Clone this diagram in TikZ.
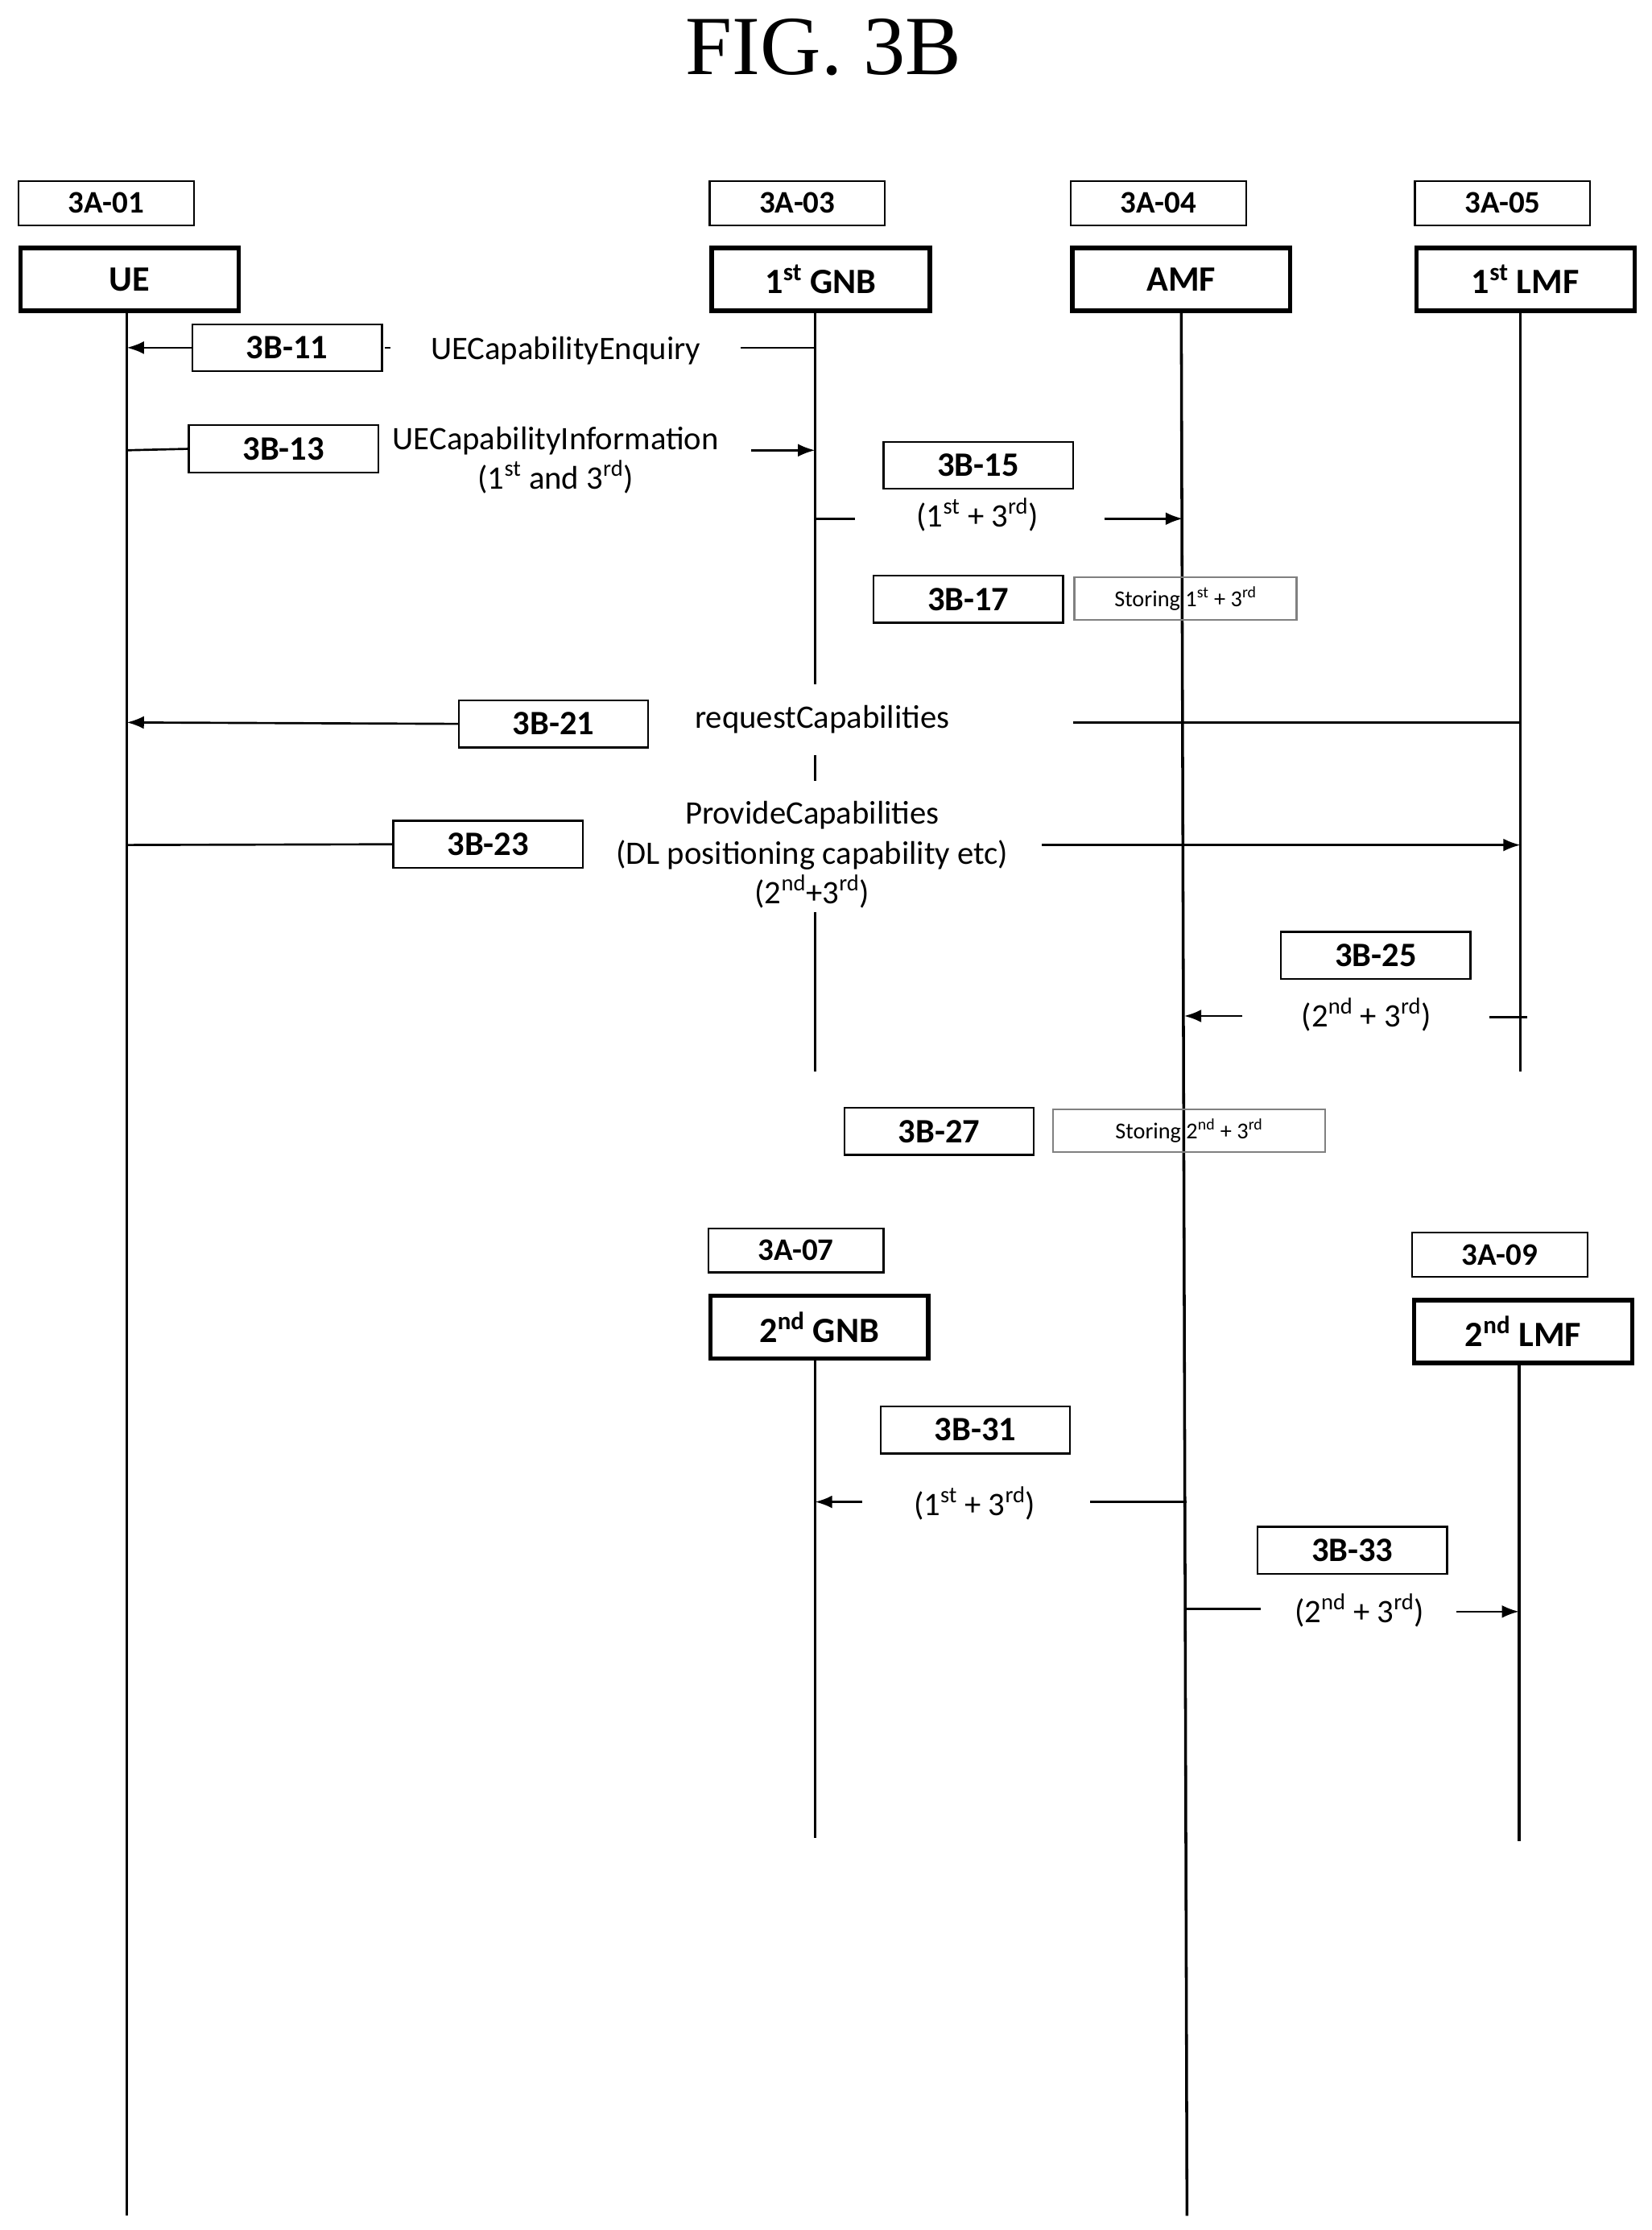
\documentclass[tikz,border=0pt]{standalone}
\usepackage{fontspec}
\setmainfont{Carlito}
\newfontfamily\titlefont{Liberation Serif}
\usetikzlibrary{arrows.meta}
\begin{document}
\begin{tikzpicture}[x=1pt,y=-1pt,
 lbl/.style={draw,line width=1.3pt,minimum width=123pt,minimum height=31pt,inner sep=0pt,font=\fontsize{22}{22}\selectfont\bfseries},
 ent/.style={draw,line width=3pt,minimum width=153pt,minimum height=44pt,inner sep=0pt,font=\fontsize{25}{25}\selectfont\bfseries},
 msg/.style={draw,line width=1.3pt,minimum width=133pt,minimum height=33pt,inner sep=0pt,font=\fontsize{24}{24}\selectfont\bfseries},
 txt/.style={inner sep=0pt,font=\fontsize{23}{28}\selectfont,align=center},
 sto/.style={draw=gray,line width=1.5pt,minimum height=30pt,inner sep=0pt,font=\fontsize{16}{16}\selectfont},
 life/.style={line width=2pt},
 ln/.style={line width=1.5pt},
 ar/.style={line width=1.5pt,-{Latex[length=12pt,width=9pt]}}]
\useasboundingbox (0,0) rectangle (1159,1565);
\node[font=\titlefont\fontsize{59}{59}\selectfont] (title) at (578,33) {FIG. 3B};
% entities
\node[lbl] (l1) at (74.5,142.5) {3A-01};
\node[ent] (ue) at (91,196) {UE};
\node[lbl] (l3) at (559.5,142.5) {3A-03};
\node[ent] (g1) at (576,196) {1\textsuperscript{st} GNB};
\node[lbl] (l4) at (813,142.5) {3A-04};
\node[ent] (amf) at (829,196) {AMF};
\node[lbl] (l5) at (1054.5,142.5) {3A-05};
\node[ent] (m1) at (1070.5,196) {1\textsuperscript{st} LMF};
\node[lbl] (l7) at (558.5,877.5) {3A-07};
\node[ent] (g2) at (575,931.5) {2\textsuperscript{nd} GNB};
\node[lbl] (l9) at (1052.5,880.5) {3A-09};
\node[ent] (m2) at (1069,934.5) {2\textsuperscript{nd} LMF};
% lifelines
\coordinate (ueT) at (89,219); \coordinate (ueB) at (89,1555);
\coordinate (g1T) at (572,219); \coordinate (g1a) at (572,480);
\coordinate (g1b) at (572,530); \coordinate (g1c) at (572,548);
\coordinate (g1d) at (572,640); \coordinate (g1B) at (572,752);
\coordinate (amT) at (829,219); \coordinate (amB) at (833,1555);
\coordinate (m1T) at (1067,219); \coordinate (m1B) at (1067,752);
\coordinate (g2T) at (572,954); \coordinate (g2B) at (572,1290);
\coordinate (m2T) at (1066,957); \coordinate (m2B) at (1066,1292);
\draw[life] (ueT) -- (ueB);
\draw[life] (g1T) -- (g1a); \draw[life] (g1b) -- (g1c); \draw[life] (g1d) -- (g1B);
\draw[life] (amT) -- (amB);
\draw[life] (m1T) -- (m1B);
\draw[life] (g2T) -- (g2B);
\draw[life] (m2T) -- (m2B);
% 3B-11
\node[msg] (b11) at (201.5,244) {3B-11};
\node[txt] (t11) at (397,246) {UECapabilityEnquiry};
\coordinate (a11) at (520,244); \coordinate (u11) at (89,244); \coordinate (g11) at (572,244);
\coordinate (d11a) at (270,244); \coordinate (d11b) at (274,244);
\draw[ln] (g11) -- (a11); \draw[ln] (d11a) -- (d11b);
\draw[ar] (b11.west) -- (u11);
% 3B-13
\node[msg] (b13) at (199,315) {3B-13};
\node[txt] (t13) at (390,323) {UECapabilityInformation\\(1\textsuperscript{st} and 3\textsuperscript{rd})};
\coordinate (u13) at (89,316); \coordinate (a13) at (527,316); \coordinate (g13) at (572,316);
\draw[ln] (u13) -- (b13.west);
\draw[ar] (a13) -- (g13);
% 3B-15
\node[msg] (b15) at (686.5,326.5) {3B-15};
\node[txt] (t15) at (686,361) {(1\textsuperscript{st} + 3\textsuperscript{rd})};
\coordinate (g15) at (572,364); \coordinate (a15) at (600,364);
\coordinate (c15) at (775,364); \coordinate (m15) at (830,364);
\draw[ln] (g15) -- (a15); \draw[ar] (c15) -- (m15);
% 3B-17
\node[msg] (b17) at (679.5,420.5) {3B-17};
\node[sto,minimum width=156pt] (s17) at (832,420) {Storing 1\textsuperscript{st} + 3\textsuperscript{rd}};
% 3B-21
\node[msg] (b21) at (388.5,508) {3B-21};
\node[txt] (t21) at (577,505) {requestCapabilities};
\coordinate (m21) at (1067,507); \coordinate (a21) at (753,507); \coordinate (u21) at (89,507);
\draw[ln] (m21) -- (a21); \draw[ar] (b21.west) -- (u21);
% 3B-23
\node[msg] (b23) at (342.5,592.5) {3B-23};
\node[txt] (t23) at (570,600) {ProvideCapabilities\\(DL positioning capability etc)\\(2\textsuperscript{nd}+3\textsuperscript{rd})};
\coordinate (u23) at (89,593); \coordinate (a23) at (731,593); \coordinate (m23) at (1067,593);
\draw[ln] (u23) -- (b23.west); \draw[ar] (a23) -- (m23);
% 3B-25
\node[msg] (b25) at (965.5,670.5) {3B-25};
\node[txt] (t25) at (959,712) {(2\textsuperscript{nd} + 3\textsuperscript{rd})};
\coordinate (m25) at (1072,714); \coordinate (a25) at (1045,714);
\coordinate (c25) at (872,713); \coordinate (am25) at (831,713);
\draw[ln] (m25) -- (a25); \draw[ar] (c25) -- (am25);
% 3B-27
\node[msg] (b27) at (659,794) {3B-27};
\node[sto,minimum width=191pt] (s27) at (834.5,793.5) {Storing 2\textsuperscript{nd} + 3\textsuperscript{rd}};
% 3B-31
\node[msg] (b31) at (684.5,1003.5) {3B-31};
\node[txt] (t31) at (684,1055) {(1\textsuperscript{st} + 3\textsuperscript{rd})};
\coordinate (am31) at (833,1054); \coordinate (a31) at (765,1054);
\coordinate (c31) at (605,1054); \coordinate (g31) at (572,1054);
\draw[ln] (am31) -- (a31); \draw[ar] (c31) -- (g31);
% 3B-33
\node[msg] (b33) at (949,1088) {3B-33};
\node[txt] (t33) at (954,1130) {(2\textsuperscript{nd} + 3\textsuperscript{rd})};
\coordinate (am33) at (833,1129); \coordinate (a33) at (885,1129);
\coordinate (c33) at (1022,1131); \coordinate (m33) at (1066,1131);
\draw[ln] (am33) -- (a33); \draw[ar] (c33) -- (m33);
\end{tikzpicture}
\end{document}
